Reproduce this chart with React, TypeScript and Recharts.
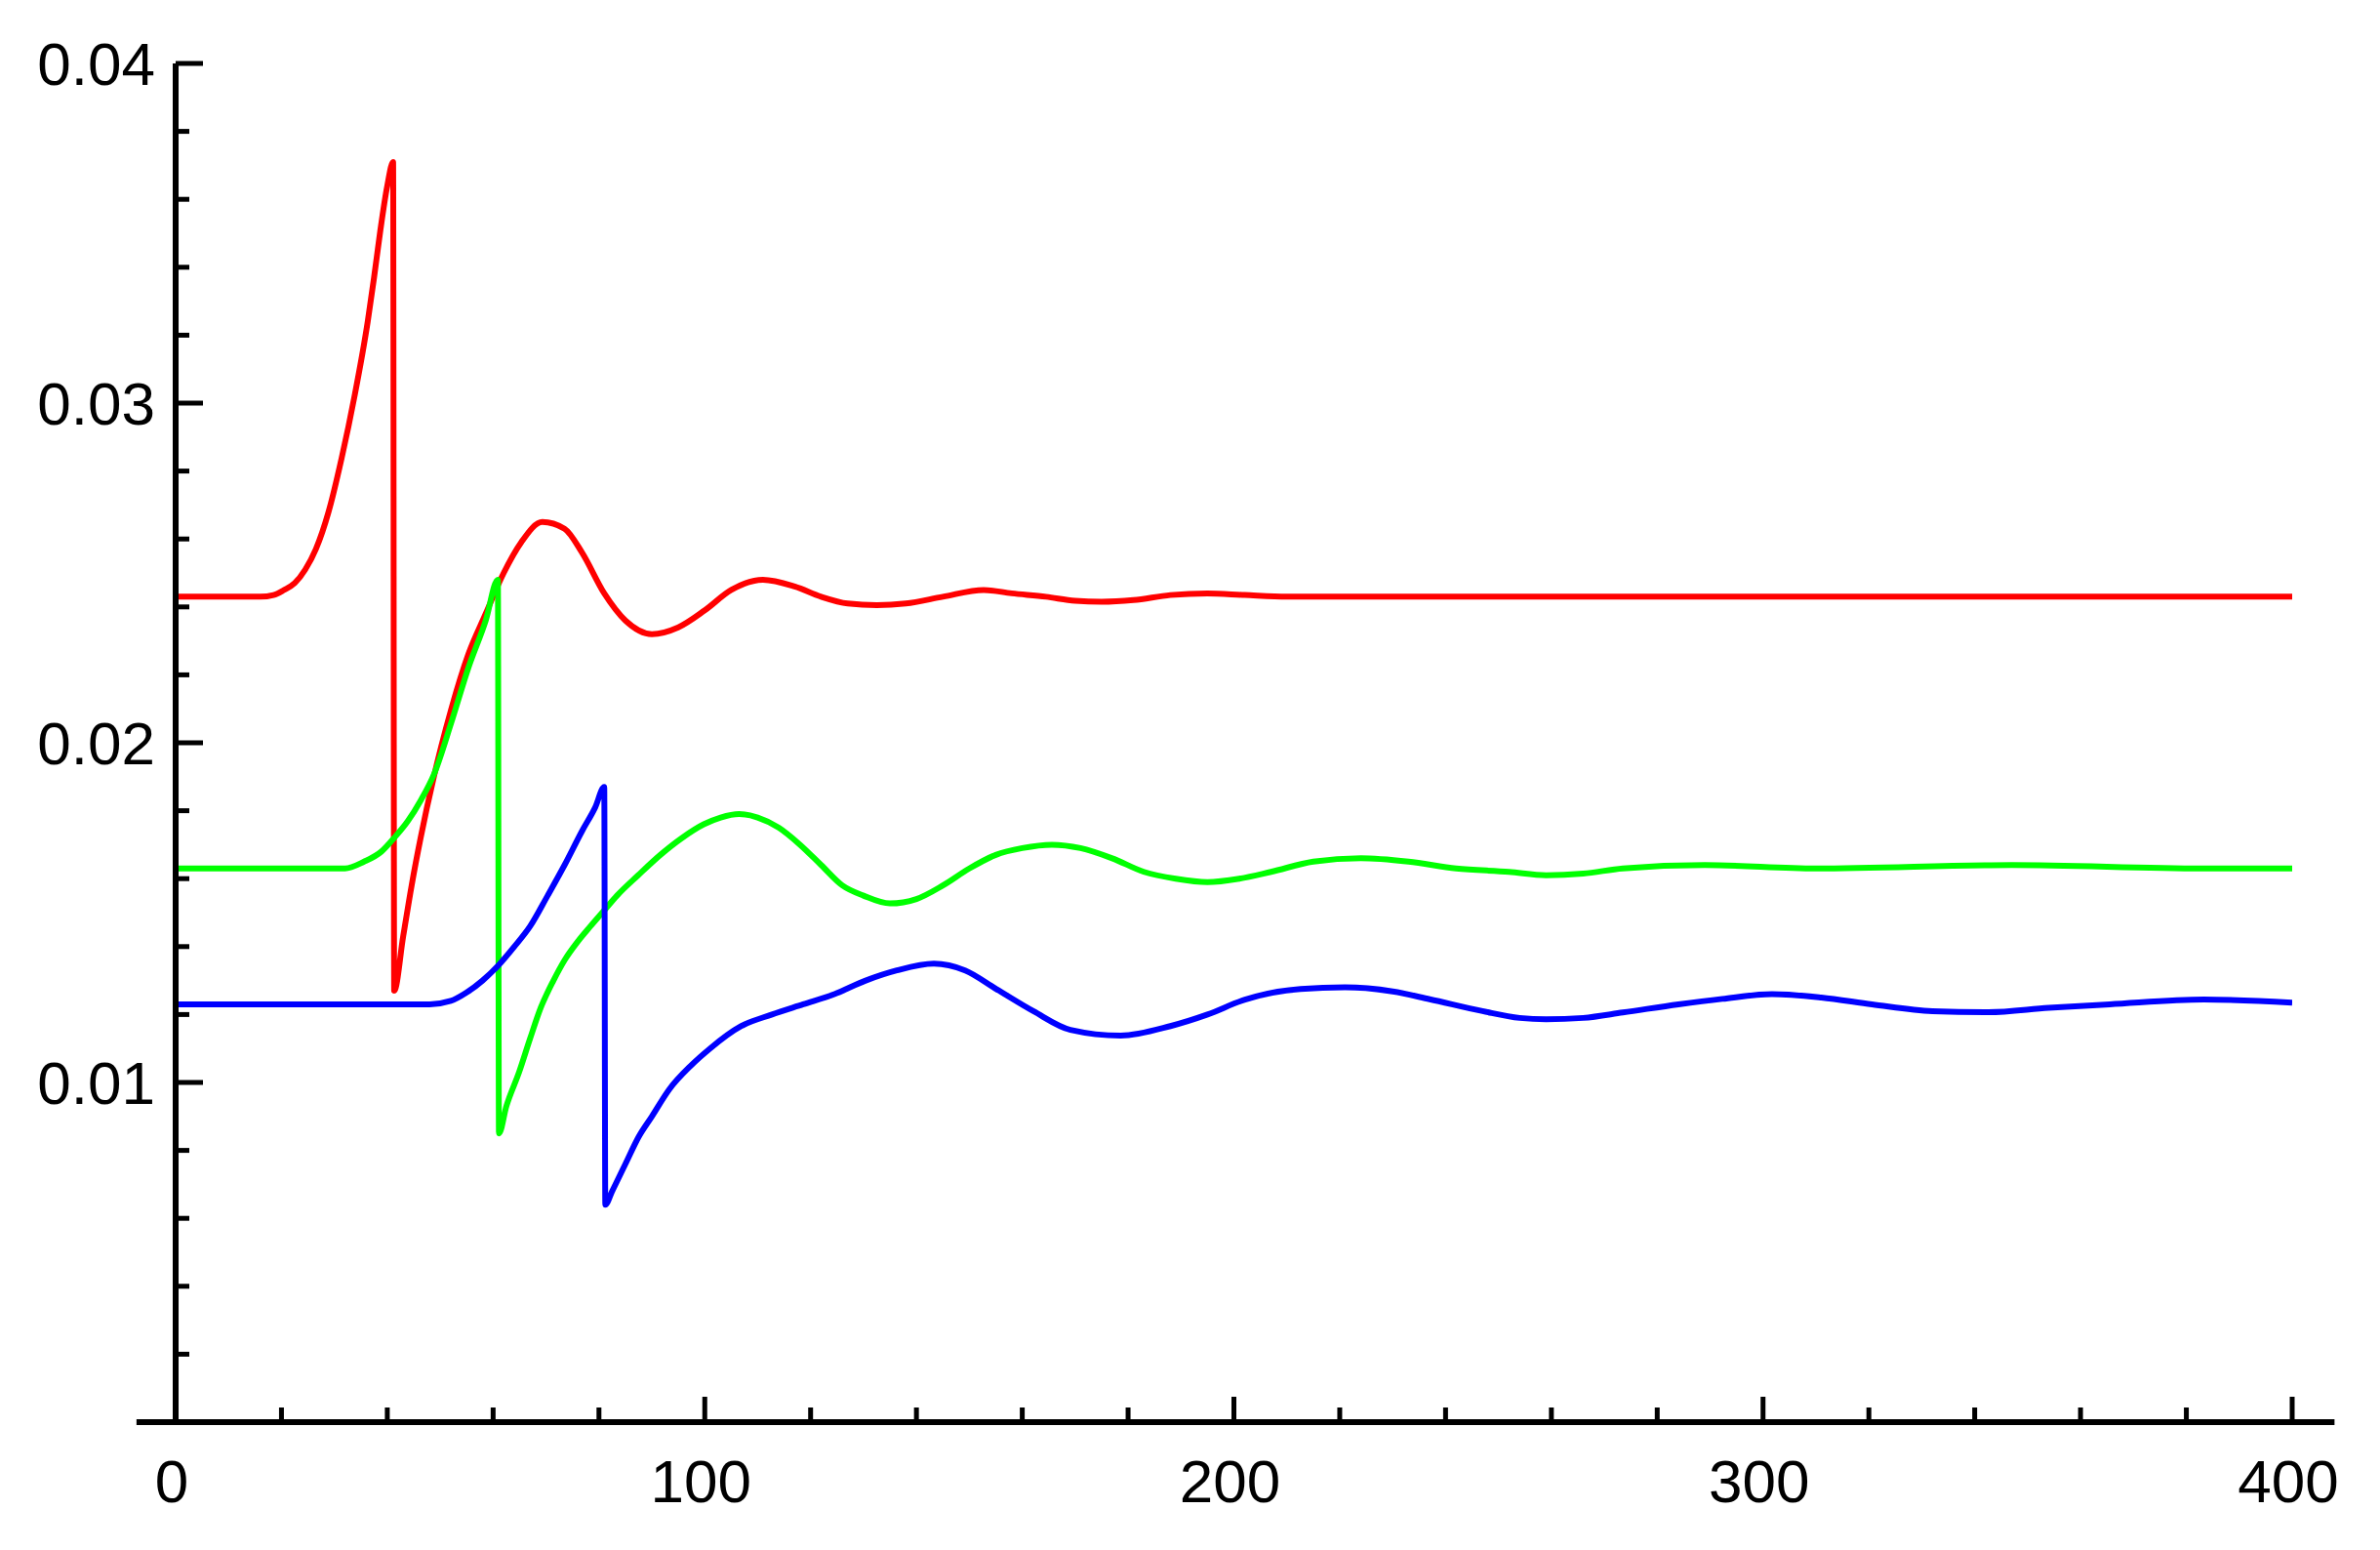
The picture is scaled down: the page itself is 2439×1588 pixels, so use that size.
import React from "react";
import { ComposedChart, Line, XAxis, YAxis, ReferenceLine } from "recharts";

// ---- axis ticks / labels ----
const xTicks = [0, 20, 40, 60, 80, 100, 120, 140, 160, 180, 200, 220, 240, 260, 280, 300, 320, 340, 360, 380, 400];
const xLabels = [0, 100, 200, 300, 400];
const yTicks = [0.002, 0.004, 0.006, 0.008, 0.01, 0.012, 0.014, 0.016, 0.018, 0.02, 0.022, 0.024, 0.026, 0.028, 0.03, 0.032, 0.034, 0.036, 0.038, 0.04];
const yLabels = [0.01, 0.02, 0.03, 0.04];
const yLabelText = ["0.01", "0.02", "0.03", "0.04"];

// ---- red series ----
const redT = [0, 16, 18.5, 20.5, 22.5, 24.5, 26.5, 28.9, 31.4, 33.8, 36.3, 37.5, 38.7, 40, 41.1, 41.3, 43, 44.6, 46.3, 48.8, 52.1, 55.3, 58.6, 62, 65.3, 69.3, 73.5, 76.8, 81, 85, 90, 95, 100, 105, 111, 117, 122, 127, 132.5, 138, 145, 152.7, 158, 164.5, 170, 175, 181, 188, 195, 202, 210, 220, 400];
const redV = [0.0243, 0.0243, 0.02435, 0.0245, 0.0247, 0.0251, 0.0257, 0.0268, 0.0284, 0.0302, 0.0324, 0.0337, 0.0351, 0.0364, 0.0371, 0.0127, 0.0143, 0.0158, 0.0172, 0.019, 0.021, 0.0226, 0.0238, 0.025, 0.0259, 0.0265, 0.0263, 0.0256, 0.0244, 0.0236, 0.0232, 0.0234, 0.0239, 0.0245, 0.0248, 0.0246, 0.0243, 0.0241, 0.02405, 0.0241, 0.0243, 0.0245, 0.0244, 0.0243, 0.02418, 0.02415, 0.0242, 0.02435, 0.0244, 0.02435, 0.0243, 0.0243, 0.0243];

// ---- green series ----
const greenT = [0, 32, 35.6, 38.9, 41.3, 43.9, 46.3, 48.9, 52.1, 55.3, 58.6, 60.9, 61.1, 62.5, 64.9, 67, 69, 71.4, 73.5, 76, 78.4, 80.9, 83.4, 87.4, 91.6, 95.7, 99.8, 103, 106.5, 110, 114, 118, 122, 126, 130, 135, 140, 145, 150, 155, 160, 165.6, 171, 177, 183, 189, 195, 201, 207, 215, 224, 233, 242, 252, 259, 266, 273.5, 289, 310, 347, 383, 400];
const greenV = [0.0163, 0.0163, 0.0165, 0.0168, 0.0172, 0.0177, 0.0183, 0.0191, 0.0206, 0.0222, 0.0236, 0.0248, 0.0085, 0.0093, 0.0103, 0.0113, 0.0122, 0.013, 0.0136, 0.01415, 0.0146, 0.01505, 0.0155, 0.0161, 0.0167, 0.0172, 0.0176, 0.0178, 0.0179, 0.0178, 0.0175, 0.017, 0.0164, 0.0158, 0.0155, 0.01527, 0.0154, 0.0158, 0.0163, 0.0167, 0.0169, 0.017, 0.0169, 0.0166, 0.0162, 0.016, 0.0159, 0.016, 0.0162, 0.0165, 0.0166, 0.0165, 0.0163, 0.0162, 0.0161, 0.01615, 0.0163, 0.0164, 0.0163, 0.0164, 0.0163, 0.0163];

// ---- blue series ----
const blueT = [0, 48, 52, 55, 58, 61, 64, 67, 70.3, 73.5, 76.8, 79.3, 81, 81.2, 82.5, 85, 87.5, 90, 93.3, 97.4, 101, 106.9, 112.7, 118.6, 124.5, 130.4, 136.3, 143.3, 149.2, 155.1, 162.1, 169.1, 178.6, 188, 195, 202.1, 212.6, 221, 230, 237, 247, 254, 259, 266, 273.5, 284, 292.3, 301.7, 311, 320.6, 332, 342.6, 354, 365.5, 383.3, 400];
const blueV = [0.0123, 0.0123, 0.0124, 0.01265, 0.013, 0.01345, 0.014, 0.0146, 0.0155, 0.0164, 0.0174, 0.0181, 0.0187, 0.0064, 0.0068, 0.0076, 0.0084, 0.009, 0.0098, 0.0105, 0.011, 0.01166, 0.012, 0.0123, 0.0126, 0.013, 0.0133, 0.0135, 0.0133, 0.01275, 0.0121, 0.01155, 0.01138, 0.01166, 0.012, 0.01244, 0.01275, 0.0128, 0.01268, 0.01245, 0.0121, 0.0119, 0.01186, 0.0119, 0.01206, 0.0123, 0.01246, 0.0126, 0.0125, 0.0123, 0.0121, 0.01207, 0.0122, 0.0123, 0.01244, 0.01235];

const zip = (t: number[], v: number[]) => t.map((x, i) => ({ x, y: v[i] }));
const redData = zip(redT, redV);
const greenData = zip(greenT, greenV);
const blueData = zip(blueT, blueV);

const FONT = "'Liberation Sans', Arial, sans-serif";
const FS = 62;

const XTick = (props: any) => {
  const { x, y, payload } = props;
  const v = payload.value;
  const major = xLabels.includes(v);
  return (
    <g>
      <line x1={x} x2={x} y1={y} y2={y - (major ? 26 : 15)} stroke="#000" strokeWidth={5} />
      {major && (
        <text x={x - 4} y={y + 82} textAnchor="middle" fontFamily={FONT} fontSize={FS} fill="#000">
          {String(v)}
        </text>
      )}
    </g>
  );
};

const YTick = (props: any) => {
  const { x, y, payload } = props;
  const v = payload.value;
  const idx = yLabels.indexOf(v);
  const major = idx >= 0;
  return (
    <g>
      <line x1={x} x2={x + (major ? 28 : 14)} y1={y} y2={y} stroke="#000" strokeWidth={5} />
      {major && (
        <text x={x - 21} y={y + 22} textAnchor="end" fontFamily={FONT} fontSize={FS} fill="#000">
          {yLabelText[idx]}
        </text>
      )}
    </g>
  );
};

export default function App() {
  return (
    <div style={{ width: 2439, height: 1588, background: "#fff" }}>
      <style>{`body{margin:0;background:#fff;}`}</style>
      <ComposedChart width={2439} height={1588} margin={{ top: 65, right: 90, left: 0, bottom: 0 }}>
        <XAxis
          type="number"
          dataKey="x"
          domain={[0, 400]}
          ticks={xTicks}
          interval={0}
          tick={<XTick />}
          tickSize={0}
          tickMargin={0}
          tickLine={false}
          axisLine={false}
          height={131}
          allowDataOverflow
        />
        <YAxis
          type="number"
          domain={[0, 0.04]}
          ticks={yTicks}
          interval={0}
          tick={<YTick />}
          tickSize={0}
          tickMargin={0}
          tickLine={false}
          axisLine={{ stroke: "#000", strokeWidth: 6 }}
          width={180}
          allowDataOverflow
        />
        <ReferenceLine
          segment={[{ x: -7.4, y: 0 }, { x: 408, y: 0 }]}
          ifOverflow="visible"
          stroke="#000"
          strokeWidth={6}
        />
        <Line data={redData} dataKey="y" type="monotone" stroke="#ff0000" strokeWidth={6} dot={false} activeDot={false} isAnimationActive={false} />
        <Line data={greenData} dataKey="y" type="monotone" stroke="#00ff00" strokeWidth={6} dot={false} activeDot={false} isAnimationActive={false} />
        <Line data={blueData} dataKey="y" type="monotone" stroke="#0000ff" strokeWidth={6} dot={false} activeDot={false} isAnimationActive={false} />
      </ComposedChart>
    </div>
  );
}
